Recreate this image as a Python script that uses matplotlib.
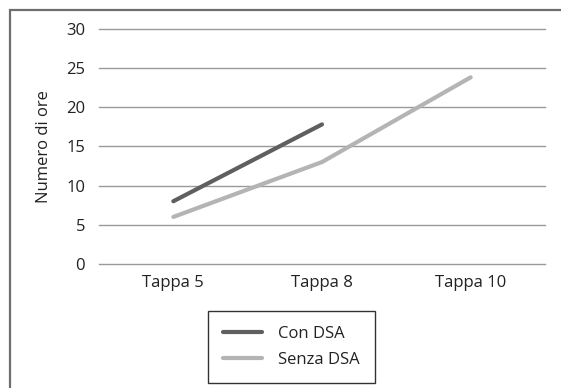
import matplotlib.pyplot as plt
from matplotlib.patches import Rectangle

plt.rcParams['font.family'] = ['Open Sans', 'DejaVu Sans']

tappe = ["Tappa 5", "Tappa 8", "Tappa 10"]
con_dsa = [8, 17.8]
senza_dsa = [6, 13, 23.8]
y_ticks = [0, 5, 10, 15, 20, 25, 30]

fig = plt.figure(figsize=(5.61, 3.88), dpi=100)
ax = fig.add_axes([99 / 561, 1 - 264 / 388, 446 / 561, (264 - 28.7) / 388])

# outer frame, cut off at right and bottom
fig.patches.append(Rectangle((10 / 561, -0.1), 1.0, 1 - 9.5 / 388 + 0.1,
                             transform=fig.transFigure, fill=False,
                             edgecolor="#6e6e6e", linewidth=1.6))

ax.plot(range(len(con_dsa)), con_dsa, color="#5f5f5f", lw=3, label="Con DSA",
        solid_capstyle="round")
ax.plot(range(len(senza_dsa)), senza_dsa, color="#b4b4b4", lw=3, label="Senza DSA",
        solid_capstyle="round")

ax.set_xlim(-0.5, len(tappe) - 0.5)
ax.set_ylim(0, 30)
ax.set_yticks(y_ticks)
ax.set_xticks(range(len(tappe)))
ax.set_xticklabels(tappe)
ax.yaxis.grid(True, color="#999999", lw=1)
for gl in ax.get_ygridlines():
    gl.set_clip_on(False)
ax.set_axisbelow(True)
for s in ax.spines.values():
    s.set_visible(False)
ax.tick_params(length=0, labelsize=12, colors="#222222")
ax.tick_params(axis="y", pad=10)
ax.tick_params(axis="x", pad=8)
ax.set_ylabel("Numero di ore", fontsize=12, color="#222222", labelpad=10)

leg = fig.legend(loc="center", bbox_to_anchor=(291.5 / 561, 1 - 346.5 / 388),
                 fontsize=12, frameon=True, fancybox=False, handlelength=2.3,
                 borderpad=0.9, labelspacing=0.6, handletextpad=1.0,
                 borderaxespad=0)
leg.get_frame().set_edgecolor("black")
leg.get_frame().set_linewidth(1)
for t in leg.get_texts():
    t.set_color("#222222")

fig.savefig("out.png", dpi=100)
